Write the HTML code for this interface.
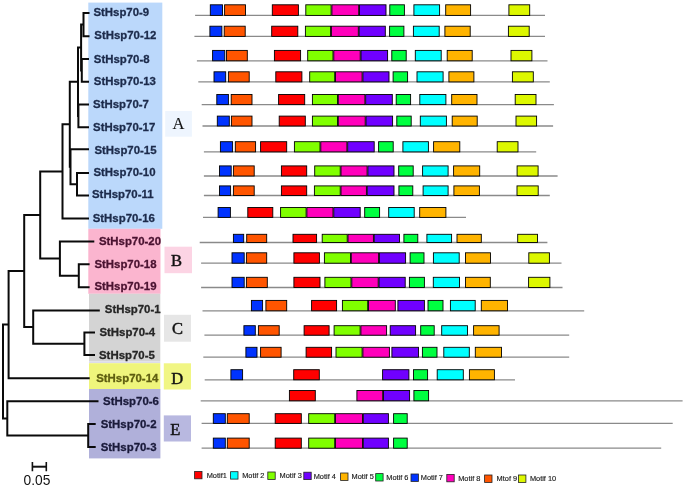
<!DOCTYPE html><html><head><meta charset="utf-8"><style>html,body{margin:0;padding:0;background:#fff;width:685px;height:487px;overflow:hidden}svg{display:block;will-change:transform}</style></head><body>
<svg width="685" height="487" viewBox="0 0 685 487">
<rect width="685" height="487" fill="#fff"/>
<rect x="88.3" y="2.6" width="74.0" height="226.2" fill="#bbd8fb"/>
<rect x="88.3" y="228.8" width="72.2" height="65.0" fill="#fbb5cf"/>
<rect x="89" y="293.8" width="71.3" height="67.5" fill="#d4d4d4"/>
<rect x="89" y="361.3" width="71.3" height="1.9" fill="#dcdce8"/>
<rect x="89" y="363.2" width="71.3" height="25.8" fill="#eff57c"/>
<rect x="89" y="389" width="71.4" height="69.4" fill="#b0b0da"/>
<rect x="165.2" y="111" width="26.7" height="25.7" fill="#eef5fe"/>
<text x="178.4" y="129" text-anchor="middle" font-family="Liberation Serif" font-size="16.5" fill="#111" stroke="#111" stroke-width="0.1">A</text>
<rect x="164.5" y="246.7" width="27.5" height="26.5" fill="#fcd4e4"/>
<text x="176.4" y="266.4" text-anchor="middle" font-family="Liberation Serif" font-size="16.5" fill="#111" stroke="#111" stroke-width="0.45">B</text>
<rect x="164" y="314.8" width="27.0" height="26.9" fill="#e6e6e6"/>
<text x="177.4" y="334" text-anchor="middle" font-family="Liberation Serif" font-size="16.5" fill="#111" stroke="#111" stroke-width="0.45">C</text>
<rect x="163.8" y="363.3" width="27.2" height="26.2" fill="#f1f684"/>
<text x="177.1" y="383.6" text-anchor="middle" font-family="Liberation Serif" font-size="16.5" fill="#111" stroke="#111" stroke-width="0.45">D</text>
<rect x="163.8" y="415.4" width="27.2" height="26.1" fill="#b8b8e0"/>
<text x="175.2" y="434.8" text-anchor="middle" font-family="Liberation Serif" font-size="16.5" fill="#111" stroke="#111" stroke-width="0.45">E</text>
<path d="M82.5 13.1H89.5 M82.5 36.2H89.5 M83.5 12.1V37.2 M80.1 24.6H83.5 M80.8 59.0H89.0 M80.8 81.8H89.0 M81.8 58.0V82.8 M80.1 70.4H81.8 M81.1 23.6V71.4 M77.0 47.5H81.1 M77.4 104.5H89.0 M77.4 127.3H89.0 M78.4 103.5V128.3 M78.0 46.5V117.0 M68.8 81.7H78.0 M69.5 149.3H89.0 M76.0 173.0H89.0 M76.0 195.6H89.0 M77.0 172.0V196.6 M69.5 184.3H77.0 M70.5 148.3V185.3 M69.8 80.7V167.8 M61.5 124.2H69.8 M61.5 218.6H89.0 M62.5 123.2V219.6 M39.2 171.4H62.5 M58.9 241.4H94.3 M77.8 264.2H89.6 M77.8 287.3H89.6 M78.8 263.2V288.3 M58.9 275.8H78.8 M59.9 240.4V276.8 M39.2 258.6H59.9 M40.2 170.4V259.6 M23.2 215.0H40.2 M32.2 310.4H99.8 M83.4 332.5H95.0 M83.4 355.0H95.0 M84.4 331.5V356.0 M32.2 343.8H84.4 M33.2 309.4V344.8 M23.2 327.1H33.2 M24.2 214.0V328.1 M7.6 271.0H24.2 M7.6 378.2H89.7 M8.6 270.0V379.2 M2.0 324.6H8.6 M6.3 401.3H98.5 M87.2 424.0H95.7 M87.2 447.0H95.7 M88.2 423.0V448.0 M6.3 435.5H88.2 M7.3 400.3V436.5 M2.0 418.4H7.3 M3.0 323.6V419.4" stroke="#0a0a0a" stroke-width="2" fill="none"/>
<text transform="translate(93.4 16.4) scale(0.972 1)" font-family="Liberation Sans" font-weight="bold" font-size="11.75" fill="#1c2b4b" stroke="#1c2b4b" stroke-width="0.3">StHsp70-9</text>
<text transform="translate(94.3 39.1) scale(0.972 1)" font-family="Liberation Sans" font-weight="bold" font-size="11.75" fill="#1c2b4b" stroke="#1c2b4b" stroke-width="0.3">StHsp70-12</text>
<text transform="translate(93.8 62.5) scale(0.972 1)" font-family="Liberation Sans" font-weight="bold" font-size="11.75" fill="#1c2b4b" stroke="#1c2b4b" stroke-width="0.3">StHsp70-8</text>
<text transform="translate(93.8 84.7) scale(0.972 1)" font-family="Liberation Sans" font-weight="bold" font-size="11.75" fill="#1c2b4b" stroke="#1c2b4b" stroke-width="0.3">StHsp70-13</text>
<text transform="translate(93.1 107.7) scale(0.972 1)" font-family="Liberation Sans" font-weight="bold" font-size="11.75" fill="#1c2b4b" stroke="#1c2b4b" stroke-width="0.3">StHsp70-7</text>
<text transform="translate(93.1 130.7) scale(0.972 1)" font-family="Liberation Sans" font-weight="bold" font-size="11.75" fill="#1c2b4b" stroke="#1c2b4b" stroke-width="0.3">StHsp70-17</text>
<text transform="translate(94.4 153.9) scale(0.972 1)" font-family="Liberation Sans" font-weight="bold" font-size="11.75" fill="#1c2b4b" stroke="#1c2b4b" stroke-width="0.3">StHsp70-15</text>
<text transform="translate(93.4 175.8) scale(0.972 1)" font-family="Liberation Sans" font-weight="bold" font-size="11.75" fill="#1c2b4b" stroke="#1c2b4b" stroke-width="0.3">StHsp70-10</text>
<text transform="translate(92.0 198.4) scale(0.972 1)" font-family="Liberation Sans" font-weight="bold" font-size="11.75" fill="#1c2b4b" stroke="#1c2b4b" stroke-width="0.3">StHsp70-11</text>
<text transform="translate(92.7 221.5) scale(0.972 1)" font-family="Liberation Sans" font-weight="bold" font-size="11.75" fill="#1c2b4b" stroke="#1c2b4b" stroke-width="0.3">StHsp70-16</text>
<text transform="translate(98.9 244.8) scale(0.972 1)" font-family="Liberation Sans" font-weight="bold" font-size="11.75" fill="#4a1230" stroke="#4a1230" stroke-width="0.3">StHsp70-20</text>
<text transform="translate(94.4 268) scale(0.972 1)" font-family="Liberation Sans" font-weight="bold" font-size="11.75" fill="#4a1230" stroke="#4a1230" stroke-width="0.3">StHsp70-18</text>
<text transform="translate(94.4 290.2) scale(0.972 1)" font-family="Liberation Sans" font-weight="bold" font-size="11.75" fill="#4a1230" stroke="#4a1230" stroke-width="0.3">StHsp70-19</text>
<text transform="translate(104.8 313) scale(0.972 1)" font-family="Liberation Sans" font-weight="bold" font-size="11.75" fill="#262626" stroke="#262626" stroke-width="0.3">StHsp70-1</text>
<text transform="translate(99.4 336.3) scale(0.972 1)" font-family="Liberation Sans" font-weight="bold" font-size="11.75" fill="#262626" stroke="#262626" stroke-width="0.3">StHsp70-4</text>
<text transform="translate(99.0 358.9) scale(0.972 1)" font-family="Liberation Sans" font-weight="bold" font-size="11.75" fill="#262626" stroke="#262626" stroke-width="0.3">StHsp70-5</text>
<text transform="translate(96.2 382) scale(0.972 1)" font-family="Liberation Sans" font-weight="bold" font-size="11.75" fill="#5e5e10" stroke="#5e5e10" stroke-width="0.3">StHsp70-14</text>
<text transform="translate(103.1 405) scale(0.972 1)" font-family="Liberation Sans" font-weight="bold" font-size="11.75" fill="#1a1a3a" stroke="#1a1a3a" stroke-width="0.3">StHsp70-6</text>
<text transform="translate(100.7 427.9) scale(0.972 1)" font-family="Liberation Sans" font-weight="bold" font-size="11.75" fill="#1a1a3a" stroke="#1a1a3a" stroke-width="0.3">StHsp70-2</text>
<text transform="translate(100.7 450.9) scale(0.972 1)" font-family="Liberation Sans" font-weight="bold" font-size="11.75" fill="#1a1a3a" stroke="#1a1a3a" stroke-width="0.3">StHsp70-3</text>
<path d="M32.4 466.7H46.3" stroke="#111" stroke-width="2" fill="none"/><path d="M32.4 462V471.2M46.3 462V471.2" stroke="#111" stroke-width="1.6" fill="none"/>
<text transform="translate(23.6 484.9) scale(0.92 1)" font-family="Liberation Sans" font-size="15" fill="#111">0.05</text>
<path d="M195.1 15.4H545" stroke="#8a8a8a" stroke-width="1.3"/>
<rect x="210.3" y="4.8" width="12.2" height="10.6" fill="#0033ff" stroke="#000" stroke-width="0.9"/>
<rect x="224.6" y="4.8" width="20.9" height="10.6" fill="#ff5500" stroke="#000" stroke-width="0.9"/>
<rect x="272.3" y="4.8" width="26.1" height="10.6" fill="#ff0000" stroke="#000" stroke-width="0.9"/>
<rect x="305.8" y="4.8" width="25.3" height="10.6" fill="#80ff00" stroke="#000" stroke-width="0.9"/>
<rect x="331.9" y="4.8" width="26.8" height="10.6" fill="#ff00bb" stroke="#000" stroke-width="0.9"/>
<rect x="359.5" y="4.8" width="26.5" height="10.6" fill="#7000ff" stroke="#000" stroke-width="0.9"/>
<rect x="389.8" y="4.8" width="14.6" height="10.6" fill="#00ff40" stroke="#000" stroke-width="0.9"/>
<rect x="413.9" y="4.8" width="25.7" height="10.6" fill="#00ffff" stroke="#000" stroke-width="0.9"/>
<rect x="445.7" y="4.8" width="24.9" height="10.6" fill="#ffb400" stroke="#000" stroke-width="0.9"/>
<rect x="508.9" y="4.8" width="20.8" height="10.6" fill="#ddf800" stroke="#000" stroke-width="0.9"/>
<path d="M194.4 36.4H545" stroke="#8a8a8a" stroke-width="1.3"/>
<rect x="209.9" y="26.2" width="12.0" height="10.2" fill="#0033ff" stroke="#000" stroke-width="0.9"/>
<rect x="224.2" y="26.2" width="21.0" height="10.2" fill="#ff5500" stroke="#000" stroke-width="0.9"/>
<rect x="271.7" y="26.2" width="26.1" height="10.2" fill="#ff0000" stroke="#000" stroke-width="0.9"/>
<rect x="305.4" y="26.2" width="25.2" height="10.2" fill="#80ff00" stroke="#000" stroke-width="0.9"/>
<rect x="331.4" y="26.2" width="26.9" height="10.2" fill="#ff00bb" stroke="#000" stroke-width="0.9"/>
<rect x="359.1" y="26.2" width="26.2" height="10.2" fill="#7000ff" stroke="#000" stroke-width="0.9"/>
<rect x="389.6" y="26.2" width="14.3" height="10.2" fill="#00ff40" stroke="#000" stroke-width="0.9"/>
<rect x="413.4" y="26.2" width="25.8" height="10.2" fill="#00ffff" stroke="#000" stroke-width="0.9"/>
<rect x="444.9" y="26.2" width="25.3" height="10.2" fill="#ffb400" stroke="#000" stroke-width="0.9"/>
<rect x="508.4" y="26.2" width="20.8" height="10.2" fill="#ddf800" stroke="#000" stroke-width="0.9"/>
<path d="M196.9 60.8H547.5" stroke="#8a8a8a" stroke-width="1.3"/>
<rect x="212.6" y="50.4" width="12.2" height="10.4" fill="#0033ff" stroke="#000" stroke-width="0.9"/>
<rect x="226.5" y="50.4" width="20.8" height="10.4" fill="#ff5500" stroke="#000" stroke-width="0.9"/>
<rect x="274.4" y="50.4" width="26.2" height="10.4" fill="#ff0000" stroke="#000" stroke-width="0.9"/>
<rect x="307.7" y="50.4" width="25.3" height="10.4" fill="#80ff00" stroke="#000" stroke-width="0.9"/>
<rect x="333.8" y="50.4" width="26.4" height="10.4" fill="#ff00bb" stroke="#000" stroke-width="0.9"/>
<rect x="361.0" y="50.4" width="26.6" height="10.4" fill="#7000ff" stroke="#000" stroke-width="0.9"/>
<rect x="391.8" y="50.4" width="14.4" height="10.4" fill="#00ff40" stroke="#000" stroke-width="0.9"/>
<rect x="415.3" y="50.4" width="25.9" height="10.4" fill="#00ffff" stroke="#000" stroke-width="0.9"/>
<rect x="447.2" y="50.4" width="25.0" height="10.4" fill="#ffb400" stroke="#000" stroke-width="0.9"/>
<rect x="511.0" y="50.4" width="20.9" height="10.4" fill="#ddf800" stroke="#000" stroke-width="0.9"/>
<path d="M198.3 81.9H549.8" stroke="#8a8a8a" stroke-width="1.3"/>
<rect x="214.0" y="71.8" width="11.7" height="10.1" fill="#0033ff" stroke="#000" stroke-width="0.9"/>
<rect x="228.4" y="71.8" width="20.8" height="10.1" fill="#ff5500" stroke="#000" stroke-width="0.9"/>
<rect x="275.8" y="71.8" width="26.1" height="10.1" fill="#ff0000" stroke="#000" stroke-width="0.9"/>
<rect x="309.7" y="71.8" width="25.0" height="10.1" fill="#80ff00" stroke="#000" stroke-width="0.9"/>
<rect x="335.5" y="71.8" width="26.6" height="10.1" fill="#ff00bb" stroke="#000" stroke-width="0.9"/>
<rect x="362.9" y="71.8" width="26.1" height="10.1" fill="#7000ff" stroke="#000" stroke-width="0.9"/>
<rect x="393.1" y="71.8" width="14.5" height="10.1" fill="#00ff40" stroke="#000" stroke-width="0.9"/>
<rect x="417.0" y="71.8" width="26.1" height="10.1" fill="#00ffff" stroke="#000" stroke-width="0.9"/>
<rect x="448.9" y="71.8" width="25.0" height="10.1" fill="#ffb400" stroke="#000" stroke-width="0.9"/>
<rect x="512.4" y="71.8" width="20.9" height="10.1" fill="#ddf800" stroke="#000" stroke-width="0.9"/>
<path d="M201.7 104.6H553.9" stroke="#8a8a8a" stroke-width="1.3"/>
<rect x="216.8" y="94.5" width="11.6" height="10.1" fill="#0033ff" stroke="#000" stroke-width="0.9"/>
<rect x="231.2" y="94.5" width="20.8" height="10.1" fill="#ff5500" stroke="#000" stroke-width="0.9"/>
<rect x="278.6" y="94.5" width="26.1" height="10.1" fill="#ff0000" stroke="#000" stroke-width="0.9"/>
<rect x="312.4" y="94.5" width="25.1" height="10.1" fill="#80ff00" stroke="#000" stroke-width="0.9"/>
<rect x="338.3" y="94.5" width="26.6" height="10.1" fill="#ff00bb" stroke="#000" stroke-width="0.9"/>
<rect x="365.7" y="94.5" width="26.6" height="10.1" fill="#7000ff" stroke="#000" stroke-width="0.9"/>
<rect x="396.2" y="94.5" width="14.4" height="10.1" fill="#00ff40" stroke="#000" stroke-width="0.9"/>
<rect x="419.8" y="94.5" width="26.1" height="10.1" fill="#00ffff" stroke="#000" stroke-width="0.9"/>
<rect x="451.7" y="94.5" width="25.3" height="10.1" fill="#ffb400" stroke="#000" stroke-width="0.9"/>
<rect x="515.2" y="94.5" width="20.8" height="10.1" fill="#ddf800" stroke="#000" stroke-width="0.9"/>
<path d="M202.5 126H553.1" stroke="#8a8a8a" stroke-width="1.3"/>
<rect x="217.3" y="116.1" width="12.0" height="9.9" fill="#0033ff" stroke="#000" stroke-width="0.9"/>
<rect x="231.4" y="116.1" width="20.6" height="9.9" fill="#ff5500" stroke="#000" stroke-width="0.9"/>
<rect x="279.2" y="116.1" width="26.1" height="9.9" fill="#ff0000" stroke="#000" stroke-width="0.9"/>
<rect x="312.4" y="116.1" width="25.1" height="9.9" fill="#80ff00" stroke="#000" stroke-width="0.9"/>
<rect x="338.3" y="116.1" width="26.9" height="9.9" fill="#ff00bb" stroke="#000" stroke-width="0.9"/>
<rect x="366.0" y="116.1" width="26.6" height="9.9" fill="#7000ff" stroke="#000" stroke-width="0.9"/>
<rect x="396.8" y="116.1" width="14.4" height="9.9" fill="#00ff40" stroke="#000" stroke-width="0.9"/>
<rect x="420.3" y="116.1" width="26.1" height="9.9" fill="#00ffff" stroke="#000" stroke-width="0.9"/>
<rect x="452.2" y="116.1" width="25.0" height="9.9" fill="#ffb400" stroke="#000" stroke-width="0.9"/>
<rect x="516.0" y="116.1" width="20.6" height="9.9" fill="#ddf800" stroke="#000" stroke-width="0.9"/>
<path d="M203.9 151.9H536.2" stroke="#8a8a8a" stroke-width="1.3"/>
<rect x="220.4" y="141.7" width="12.2" height="10.2" fill="#0033ff" stroke="#000" stroke-width="0.9"/>
<rect x="235.3" y="141.7" width="20.3" height="10.2" fill="#ff5500" stroke="#000" stroke-width="0.9"/>
<rect x="260.6" y="141.7" width="26.1" height="10.2" fill="#ff0000" stroke="#000" stroke-width="0.9"/>
<rect x="294.4" y="141.7" width="25.6" height="10.2" fill="#80ff00" stroke="#000" stroke-width="0.9"/>
<rect x="320.8" y="141.7" width="26.1" height="10.2" fill="#ff00bb" stroke="#000" stroke-width="0.9"/>
<rect x="347.7" y="141.7" width="26.5" height="10.2" fill="#7000ff" stroke="#000" stroke-width="0.9"/>
<rect x="378.6" y="141.7" width="14.6" height="10.2" fill="#00ff40" stroke="#000" stroke-width="0.9"/>
<rect x="402.9" y="141.7" width="25.5" height="10.2" fill="#00ffff" stroke="#000" stroke-width="0.9"/>
<rect x="433.6" y="141.7" width="26.2" height="10.2" fill="#ffb400" stroke="#000" stroke-width="0.9"/>
<rect x="497.2" y="141.7" width="20.8" height="10.2" fill="#ddf800" stroke="#000" stroke-width="0.9"/>
<path d="M203.9 176H557.6" stroke="#8a8a8a" stroke-width="1.3"/>
<rect x="219.5" y="165.9" width="11.7" height="10.1" fill="#0033ff" stroke="#000" stroke-width="0.9"/>
<rect x="233.4" y="165.9" width="20.8" height="10.1" fill="#ff5500" stroke="#000" stroke-width="0.9"/>
<rect x="281.4" y="165.9" width="25.3" height="10.1" fill="#ff0000" stroke="#000" stroke-width="0.9"/>
<rect x="314.7" y="165.9" width="25.5" height="10.1" fill="#80ff00" stroke="#000" stroke-width="0.9"/>
<rect x="341.0" y="165.9" width="26.1" height="10.1" fill="#ff00bb" stroke="#000" stroke-width="0.9"/>
<rect x="367.9" y="165.9" width="26.1" height="10.1" fill="#7000ff" stroke="#000" stroke-width="0.9"/>
<rect x="398.7" y="165.9" width="14.5" height="10.1" fill="#00ff40" stroke="#000" stroke-width="0.9"/>
<rect x="422.6" y="165.9" width="25.5" height="10.1" fill="#00ffff" stroke="#000" stroke-width="0.9"/>
<rect x="453.6" y="165.9" width="26.1" height="10.1" fill="#ffb400" stroke="#000" stroke-width="0.9"/>
<rect x="517.1" y="165.9" width="21.0" height="10.1" fill="#ddf800" stroke="#000" stroke-width="0.9"/>
<path d="M203.9 195.5H549.8" stroke="#8a8a8a" stroke-width="1.3"/>
<rect x="219.5" y="185.9" width="11.1" height="9.6" fill="#0033ff" stroke="#000" stroke-width="0.9"/>
<rect x="233.4" y="185.9" width="20.8" height="9.6" fill="#ff5500" stroke="#000" stroke-width="0.9"/>
<rect x="281.4" y="185.9" width="25.3" height="9.6" fill="#ff0000" stroke="#000" stroke-width="0.9"/>
<rect x="314.4" y="185.9" width="25.8" height="9.6" fill="#80ff00" stroke="#000" stroke-width="0.9"/>
<rect x="341.0" y="185.9" width="25.4" height="9.6" fill="#ff00bb" stroke="#000" stroke-width="0.9"/>
<rect x="367.2" y="185.9" width="26.8" height="9.6" fill="#7000ff" stroke="#000" stroke-width="0.9"/>
<rect x="398.9" y="185.9" width="13.9" height="9.6" fill="#00ff40" stroke="#000" stroke-width="0.9"/>
<rect x="423.1" y="185.9" width="25.0" height="9.6" fill="#00ffff" stroke="#000" stroke-width="0.9"/>
<rect x="453.9" y="185.9" width="25.5" height="9.6" fill="#ffb400" stroke="#000" stroke-width="0.9"/>
<rect x="517.0" y="185.9" width="21.2" height="9.6" fill="#ddf800" stroke="#000" stroke-width="0.9"/>
<path d="M203 217.4H466" stroke="#8a8a8a" stroke-width="1.3"/>
<rect x="218.1" y="207.5" width="12.3" height="9.9" fill="#0033ff" stroke="#000" stroke-width="0.9"/>
<rect x="247.8" y="207.5" width="25.0" height="9.9" fill="#ff0000" stroke="#000" stroke-width="0.9"/>
<rect x="280.6" y="207.5" width="25.5" height="9.9" fill="#80ff00" stroke="#000" stroke-width="0.9"/>
<rect x="306.9" y="207.5" width="26.1" height="9.9" fill="#ff00bb" stroke="#000" stroke-width="0.9"/>
<rect x="333.8" y="207.5" width="26.4" height="9.9" fill="#7000ff" stroke="#000" stroke-width="0.9"/>
<rect x="364.7" y="207.5" width="14.9" height="9.9" fill="#00ff40" stroke="#000" stroke-width="0.9"/>
<rect x="388.7" y="207.5" width="25.5" height="9.9" fill="#00ffff" stroke="#000" stroke-width="0.9"/>
<rect x="419.7" y="207.5" width="26.2" height="9.9" fill="#ffb400" stroke="#000" stroke-width="0.9"/>
<path d="M199.7 242.5H547.4" stroke="#8a8a8a" stroke-width="1.3"/>
<rect x="233.4" y="234.3" width="10.3" height="8.2" fill="#0033ff" stroke="#000" stroke-width="0.9"/>
<rect x="246.7" y="234.3" width="20.0" height="8.2" fill="#ff5500" stroke="#000" stroke-width="0.9"/>
<rect x="293.0" y="234.3" width="23.6" height="8.2" fill="#ff0000" stroke="#000" stroke-width="0.9"/>
<rect x="322.2" y="234.3" width="25.0" height="8.2" fill="#80ff00" stroke="#000" stroke-width="0.9"/>
<rect x="348.0" y="234.3" width="25.4" height="8.2" fill="#ff00bb" stroke="#000" stroke-width="0.9"/>
<rect x="374.2" y="234.3" width="25.3" height="8.2" fill="#7000ff" stroke="#000" stroke-width="0.9"/>
<rect x="403.9" y="234.3" width="13.9" height="8.2" fill="#00ff40" stroke="#000" stroke-width="0.9"/>
<rect x="426.9" y="234.3" width="24.7" height="8.2" fill="#00ffff" stroke="#000" stroke-width="0.9"/>
<rect x="457.0" y="234.3" width="24.3" height="8.2" fill="#ffb400" stroke="#000" stroke-width="0.9"/>
<rect x="517.7" y="234.3" width="19.8" height="8.2" fill="#ddf800" stroke="#000" stroke-width="0.9"/>
<path d="M201.1 263.2H561.5" stroke="#8a8a8a" stroke-width="1.3"/>
<rect x="232.0" y="252.8" width="12.2" height="10.4" fill="#0033ff" stroke="#000" stroke-width="0.9"/>
<rect x="246.4" y="252.8" width="20.3" height="10.4" fill="#ff5500" stroke="#000" stroke-width="0.9"/>
<rect x="293.9" y="252.8" width="25.5" height="10.4" fill="#ff0000" stroke="#000" stroke-width="0.9"/>
<rect x="324.4" y="252.8" width="26.1" height="10.4" fill="#80ff00" stroke="#000" stroke-width="0.9"/>
<rect x="351.3" y="252.8" width="27.3" height="10.4" fill="#ff00bb" stroke="#000" stroke-width="0.9"/>
<rect x="379.4" y="252.8" width="26.2" height="10.4" fill="#7000ff" stroke="#000" stroke-width="0.9"/>
<rect x="410.1" y="252.8" width="13.9" height="10.4" fill="#00ff40" stroke="#000" stroke-width="0.9"/>
<rect x="433.4" y="252.8" width="25.8" height="10.4" fill="#00ffff" stroke="#000" stroke-width="0.9"/>
<rect x="465.5" y="252.8" width="25.0" height="10.4" fill="#ffb400" stroke="#000" stroke-width="0.9"/>
<rect x="528.8" y="252.8" width="20.6" height="10.4" fill="#ddf800" stroke="#000" stroke-width="0.9"/>
<path d="M201.1 287.5H562.5" stroke="#8a8a8a" stroke-width="1.3"/>
<rect x="232.0" y="277.3" width="12.2" height="10.2" fill="#0033ff" stroke="#000" stroke-width="0.9"/>
<rect x="246.4" y="277.3" width="20.9" height="10.2" fill="#ff5500" stroke="#000" stroke-width="0.9"/>
<rect x="293.9" y="277.3" width="26.1" height="10.2" fill="#ff0000" stroke="#000" stroke-width="0.9"/>
<rect x="324.9" y="277.3" width="26.1" height="10.2" fill="#80ff00" stroke="#000" stroke-width="0.9"/>
<rect x="351.8" y="277.3" width="26.4" height="10.2" fill="#ff00bb" stroke="#000" stroke-width="0.9"/>
<rect x="379.0" y="277.3" width="26.2" height="10.2" fill="#7000ff" stroke="#000" stroke-width="0.9"/>
<rect x="409.4" y="277.3" width="15.0" height="10.2" fill="#00ff40" stroke="#000" stroke-width="0.9"/>
<rect x="433.3" y="277.3" width="26.2" height="10.2" fill="#00ffff" stroke="#000" stroke-width="0.9"/>
<rect x="465.5" y="277.3" width="24.8" height="10.2" fill="#ffb400" stroke="#000" stroke-width="0.9"/>
<rect x="528.6" y="277.3" width="21.3" height="10.2" fill="#ddf800" stroke="#000" stroke-width="0.9"/>
<path d="M202.5 310.8H584.2" stroke="#8a8a8a" stroke-width="1.3"/>
<rect x="251.4" y="300.4" width="11.2" height="10.4" fill="#0033ff" stroke="#000" stroke-width="0.9"/>
<rect x="265.9" y="300.4" width="20.8" height="10.4" fill="#ff5500" stroke="#000" stroke-width="0.9"/>
<rect x="311.6" y="300.4" width="25.0" height="10.4" fill="#ff0000" stroke="#000" stroke-width="0.9"/>
<rect x="342.4" y="300.4" width="25.3" height="10.4" fill="#80ff00" stroke="#000" stroke-width="0.9"/>
<rect x="368.5" y="300.4" width="26.8" height="10.4" fill="#ff00bb" stroke="#000" stroke-width="0.9"/>
<rect x="397.9" y="300.4" width="26.5" height="10.4" fill="#7000ff" stroke="#000" stroke-width="0.9"/>
<rect x="428.0" y="300.4" width="15.0" height="10.4" fill="#00ff40" stroke="#000" stroke-width="0.9"/>
<rect x="450.4" y="300.4" width="24.8" height="10.4" fill="#00ffff" stroke="#000" stroke-width="0.9"/>
<rect x="481.3" y="300.4" width="26.2" height="10.4" fill="#ffb400" stroke="#000" stroke-width="0.9"/>
<path d="M204.4 335.2H569.2" stroke="#8a8a8a" stroke-width="1.3"/>
<rect x="243.9" y="325.7" width="11.4" height="9.5" fill="#0033ff" stroke="#000" stroke-width="0.9"/>
<rect x="258.4" y="325.7" width="20.8" height="9.5" fill="#ff5500" stroke="#000" stroke-width="0.9"/>
<rect x="304.1" y="325.7" width="25.0" height="9.5" fill="#ff0000" stroke="#000" stroke-width="0.9"/>
<rect x="334.1" y="325.7" width="26.0" height="9.5" fill="#80ff00" stroke="#000" stroke-width="0.9"/>
<rect x="360.9" y="325.7" width="25.7" height="9.5" fill="#ff00bb" stroke="#000" stroke-width="0.9"/>
<rect x="390.2" y="325.7" width="25.4" height="9.5" fill="#7000ff" stroke="#000" stroke-width="0.9"/>
<rect x="420.7" y="325.7" width="13.5" height="9.5" fill="#00ff40" stroke="#000" stroke-width="0.9"/>
<rect x="441.7" y="325.7" width="25.8" height="9.5" fill="#00ffff" stroke="#000" stroke-width="0.9"/>
<rect x="473.6" y="325.7" width="25.5" height="9.5" fill="#ffb400" stroke="#000" stroke-width="0.9"/>
<path d="M203.3 357.2H569.2" stroke="#8a8a8a" stroke-width="1.3"/>
<rect x="245.9" y="347.3" width="11.1" height="9.9" fill="#0033ff" stroke="#000" stroke-width="0.9"/>
<rect x="260.6" y="347.3" width="20.5" height="9.9" fill="#ff5500" stroke="#000" stroke-width="0.9"/>
<rect x="306.1" y="347.3" width="25.5" height="9.9" fill="#ff0000" stroke="#000" stroke-width="0.9"/>
<rect x="336.0" y="347.3" width="26.1" height="9.9" fill="#80ff00" stroke="#000" stroke-width="0.9"/>
<rect x="362.9" y="347.3" width="26.5" height="9.9" fill="#ff00bb" stroke="#000" stroke-width="0.9"/>
<rect x="391.9" y="347.3" width="26.6" height="9.9" fill="#7000ff" stroke="#000" stroke-width="0.9"/>
<rect x="422.4" y="347.3" width="14.6" height="9.9" fill="#00ff40" stroke="#000" stroke-width="0.9"/>
<rect x="443.8" y="347.3" width="25.5" height="9.9" fill="#00ffff" stroke="#000" stroke-width="0.9"/>
<rect x="475.3" y="347.3" width="26.2" height="9.9" fill="#ffb400" stroke="#000" stroke-width="0.9"/>
<path d="M204.7 379.8H515" stroke="#8a8a8a" stroke-width="1.3"/>
<rect x="230.9" y="369.7" width="11.7" height="10.1" fill="#0033ff" stroke="#000" stroke-width="0.9"/>
<rect x="293.7" y="369.7" width="25.6" height="10.1" fill="#ff0000" stroke="#000" stroke-width="0.9"/>
<rect x="382.6" y="369.7" width="26.3" height="10.1" fill="#7000ff" stroke="#000" stroke-width="0.9"/>
<rect x="413.5" y="369.7" width="14.1" height="10.1" fill="#00ff40" stroke="#000" stroke-width="0.9"/>
<rect x="437.2" y="369.7" width="26.1" height="10.1" fill="#00ffff" stroke="#000" stroke-width="0.9"/>
<rect x="469.4" y="369.7" width="25.0" height="10.1" fill="#ffb400" stroke="#000" stroke-width="0.9"/>
<path d="M200.7 400.8H682.6" stroke="#8a8a8a" stroke-width="1.3"/>
<rect x="289.4" y="390.5" width="25.9" height="10.3" fill="#ff0000" stroke="#000" stroke-width="0.9"/>
<rect x="356.9" y="390.5" width="25.8" height="10.3" fill="#ff00bb" stroke="#000" stroke-width="0.9"/>
<rect x="383.5" y="390.5" width="26.1" height="10.3" fill="#7000ff" stroke="#000" stroke-width="0.9"/>
<rect x="413.9" y="390.5" width="14.7" height="10.3" fill="#00ff40" stroke="#000" stroke-width="0.9"/>
<path d="M201.6 423.4H672.7" stroke="#8a8a8a" stroke-width="1.3"/>
<rect x="213.3" y="413.7" width="12.0" height="9.7" fill="#0033ff" stroke="#000" stroke-width="0.9"/>
<rect x="227.3" y="413.7" width="21.9" height="9.7" fill="#ff5500" stroke="#000" stroke-width="0.9"/>
<rect x="275.2" y="413.7" width="26.1" height="9.7" fill="#ff0000" stroke="#000" stroke-width="0.9"/>
<rect x="308.7" y="413.7" width="26.0" height="9.7" fill="#80ff00" stroke="#000" stroke-width="0.9"/>
<rect x="335.5" y="413.7" width="27.0" height="9.7" fill="#ff00bb" stroke="#000" stroke-width="0.9"/>
<rect x="363.3" y="413.7" width="25.1" height="9.7" fill="#7000ff" stroke="#000" stroke-width="0.9"/>
<rect x="393.6" y="413.7" width="13.6" height="9.7" fill="#00ff40" stroke="#000" stroke-width="0.9"/>
<path d="M201.6 448.2H661.2" stroke="#8a8a8a" stroke-width="1.3"/>
<rect x="213.3" y="438.1" width="12.0" height="10.1" fill="#0033ff" stroke="#000" stroke-width="0.9"/>
<rect x="227.3" y="438.1" width="21.9" height="10.1" fill="#ff5500" stroke="#000" stroke-width="0.9"/>
<rect x="275.2" y="438.1" width="26.1" height="10.1" fill="#ff0000" stroke="#000" stroke-width="0.9"/>
<rect x="308.7" y="438.1" width="26.0" height="10.1" fill="#80ff00" stroke="#000" stroke-width="0.9"/>
<rect x="335.5" y="438.1" width="27.0" height="10.1" fill="#ff00bb" stroke="#000" stroke-width="0.9"/>
<rect x="363.3" y="438.1" width="25.1" height="10.1" fill="#7000ff" stroke="#000" stroke-width="0.9"/>
<rect x="393.6" y="438.1" width="13.6" height="10.1" fill="#00ff40" stroke="#000" stroke-width="0.9"/>
<rect x="194.6" y="471.4" width="7.4" height="7.4" fill="#ff0000" stroke="#222" stroke-width="0.8"/>
<text x="206.7" y="477.8" font-family="Liberation Sans" font-size="7.4" fill="#1a1a1a" stroke="#1a1a1a" stroke-width="0.15">Motif1</text>
<rect x="230.6" y="471.7" width="7.4" height="7.4" fill="#00ffff" stroke="#222" stroke-width="0.8"/>
<text x="242.2" y="478.1" font-family="Liberation Sans" font-size="7.4" fill="#1a1a1a" stroke="#1a1a1a" stroke-width="0.15">Motif 2</text>
<rect x="267.8" y="472.0" width="7.4" height="7.4" fill="#80ff00" stroke="#222" stroke-width="0.8"/>
<text x="279.6" y="478.4" font-family="Liberation Sans" font-size="7.4" fill="#1a1a1a" stroke="#1a1a1a" stroke-width="0.15">Motif 3</text>
<rect x="303.8" y="472.2" width="7.4" height="7.4" fill="#7000ff" stroke="#222" stroke-width="0.8"/>
<text x="313.7" y="478.6" font-family="Liberation Sans" font-size="7.4" fill="#1a1a1a" stroke="#1a1a1a" stroke-width="0.15">Motif 4</text>
<rect x="340.6" y="473.0" width="7.4" height="7.4" fill="#ffb400" stroke="#222" stroke-width="0.8"/>
<text x="351.6" y="479.4" font-family="Liberation Sans" font-size="7.4" fill="#1a1a1a" stroke="#1a1a1a" stroke-width="0.15">Motif 5</text>
<rect x="375.7" y="473.6" width="7.4" height="7.4" fill="#00ff40" stroke="#222" stroke-width="0.8"/>
<text x="386.3" y="480.0" font-family="Liberation Sans" font-size="7.4" fill="#1a1a1a" stroke="#1a1a1a" stroke-width="0.15">Motif 6</text>
<rect x="411.0" y="474.0" width="7.4" height="7.4" fill="#0033ff" stroke="#222" stroke-width="0.8"/>
<text x="420.8" y="480.4" font-family="Liberation Sans" font-size="7.4" fill="#1a1a1a" stroke="#1a1a1a" stroke-width="0.15">Motif 7</text>
<rect x="446.8" y="474.4" width="7.4" height="7.4" fill="#ff00bb" stroke="#222" stroke-width="0.8"/>
<text x="458.2" y="480.8" font-family="Liberation Sans" font-size="7.4" fill="#1a1a1a" stroke="#1a1a1a" stroke-width="0.15">Motif 8</text>
<rect x="484.6" y="475.0" width="7.4" height="7.4" fill="#ff5500" stroke="#222" stroke-width="0.8"/>
<text x="496.6" y="481.4" font-family="Liberation Sans" font-size="7.4" fill="#1a1a1a" stroke="#1a1a1a" stroke-width="0.15">Mtof 9</text>
<rect x="518.5" y="475.0" width="7.4" height="7.4" fill="#ddf800" stroke="#222" stroke-width="0.8"/>
<text x="529.9" y="481.4" font-family="Liberation Sans" font-size="7.4" fill="#1a1a1a" stroke="#1a1a1a" stroke-width="0.15">Motif 10</text>
</svg></body></html>
